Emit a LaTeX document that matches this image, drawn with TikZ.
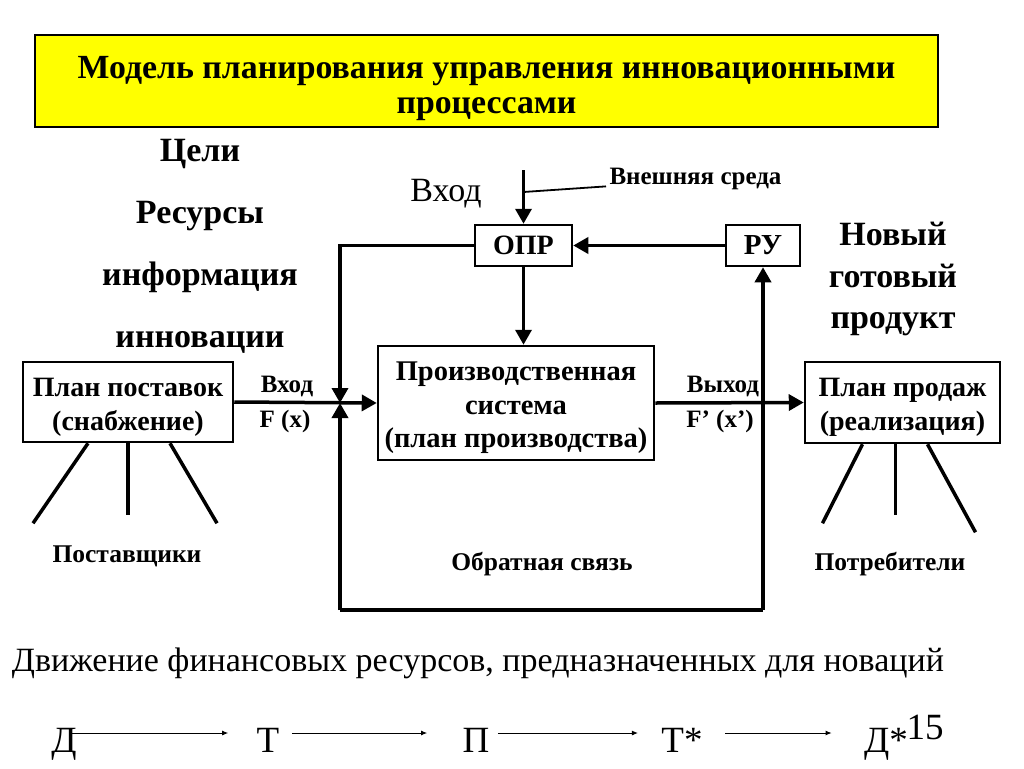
\documentclass[tikz,border=0pt]{standalone}
\usepackage{fontspec}
\setmainfont{Liberation Serif}
\usetikzlibrary{arrows.meta}

\definecolor{titleyellow}{RGB}{255,255,0}

\tikzset{
  box/.style={draw, line width=2.5pt, align=center, inner sep=0pt},
  ln/.style={line width=3.5pt},
  arr/.style={line width=3.5pt, -{Triangle[length=15pt,width=16pt]}},
  thinarr/.style={line width=0.9pt, -{Latex[length=6pt,width=5pt]}},
  midb/.style={font=\fontsize{28.5}{33.5}\selectfont\bfseries},
  planb/.style={font=\fontsize{28}{34}\selectfont\bfseries},
  smb/.style={font=\fontsize{25.5}{30}\selectfont\bfseries},
  lblb/.style={font=\fontsize{25}{30}\selectfont\bfseries},
}

\begin{document}
\begin{tikzpicture}[x=1pt,y=-1pt]
\useasboundingbox (0,0) rectangle (1024,768);

% title
\node[box, fill=titleyellow, minimum width=903pt, minimum height=92pt] (title) at (486.5,81) {};
\node[align=center, font=\fontsize{33.8}{35}\selectfont\bfseries] (titletxt) at (486.5,89)
  {Модель планирования управления инновационными\\процессами};

% left list and right label
\node[align=center, font=\fontsize{34}{62}\selectfont\bfseries] (goals) at (200,246)
  {Цели\\Ресурсы\\информация\\инновации};
\node[align=center, font=\fontsize{34}{41.5}\selectfont\bfseries] (newprod) at (893,279)
  {Новый\\готовый\\продукт};

% control loop boxes
\node[box, font=\fontsize{28}{32}\selectfont\bfseries, minimum width=97pt, minimum height=41pt] (opr) at (523.5,245.5) {ОПР};
\node[box, font=\fontsize{29}{32}\selectfont\bfseries, minimum width=74pt, minimum height=41pt] (ru) at (763,245.5) {РУ};
\node[box, minimum width=276pt, minimum height=114pt] (prod) at (516,403) {};
\node[midb, align=center] (prodtxt) at ([yshift=-5pt]prod.center)
  {Производственная\\система\\(план производства)};
\node[box, minimum width=210pt, minimum height=80pt] (supply) at (128,402) {};
\node[planb, align=center] (supplytxt) at ([yshift=-5pt]supply.center)
  {План поставок\\(снабжение)};
\node[box, minimum width=195pt, minimum height=81pt] (sales) at (902.5,402.5) {};
\node[planb, align=center] (salestxt) at ([yshift=-5pt]sales.center)
  {План продаж\\(реализация)};

% environment input
\coordinate (env) at (523.5,170);
\coordinate (envtap) at (523.5,192);
\node[lblb, anchor=west] (envlbl) at (606,179) {Внешняя среда};
\node[font=\fontsize{34}{40}\selectfont] (inlbl) at (446,194) {Вход};
\draw[arr] (env) -- (opr.north);
\draw[line width=1.8pt] (envtap) -- ([yshift=7pt]envlbl.south west);

% junction before the production system
\coordinate (jn) at (340,403);
\coordinate (fbl) at (340,610);
\coordinate (fbr) at (763,610);
\draw[arr] (opr.west) -| (jn);
\draw[arr] (fbl) -- (jn);
\draw[ln] (fbl) -- (fbr);
\draw[arr] (fbr) -- (ru.south);
\draw[arr] (ru.west) -- (opr.east);
\draw[arr] (opr.south) -- (opr.south |- prod.north);
\draw[arr] (supply.east) -- (prod.west);
\draw[arr] (prod.east) -- (sales.west);

\node[lblb] (vin) at (287,386) {Вход};
\node[lblb] (fx) at (285,421) {F (x)};
\node[lblb] (vout) at (723,386) {Выход};
\node[lblb] (fxo) at (720,421) {F’ (x’)};
\node[smb] (fb) at (542,564) {Обратная связь};

% suppliers and consumers
\draw[ln] ([xshift=-40pt]supply.south) -- ++(-55,80);
\draw[ln] (supply.south) -- ++(0,72);
\draw[ln] ([xshift=42pt]supply.south) -- ++(47,80);
\node[smb] (suppliers) at (127,556) {Поставщики};
\draw[ln] ([xshift=-40pt]sales.south) -- ++(-40,79);
\draw[ln] ([xshift=-7pt]sales.south) -- ++(0,71);
\draw[ln] ([xshift=25pt]sales.south) -- ++(48,88);
\node[smb] (consumers) at (890,564) {Потребители};

% money flow
\node[font=\fontsize{34}{40}\selectfont] (flow) at (478,663)
  {Движение финансовых ресурсов, предназначенных для новаций};
\begin{scope}[font=\fontsize{37}{42}\selectfont, anchor=base]
\node (d1) at (64,752) {Д};
\node (t1) at (268,752) {Т};
\node (p1) at (476,752) {П};
\node (t2) at (682,752) {Т*};
\node (d2) at (886,752) {Д*};
\node (pg) at (925,739) {15};
\end{scope}
\draw[thinarr, shorten >=25pt] ([xshift=5pt,yshift=19pt]d1.base) -- ([yshift=19pt]t1.base west);
\draw[thinarr, shorten <=9pt, shorten >=32pt] ([yshift=19pt]t1.base east) -- ([yshift=19pt]p1.base west);
\draw[thinarr, shorten <=5pt, shorten >=20pt] ([yshift=19pt]p1.base east) -- ([yshift=19pt]t2.base west);
\draw[thinarr, shorten <=19pt, shorten >=29pt] ([yshift=19pt]t2.base east) -- ([yshift=19pt]d2.base west);
\end{tikzpicture}
\end{document}
